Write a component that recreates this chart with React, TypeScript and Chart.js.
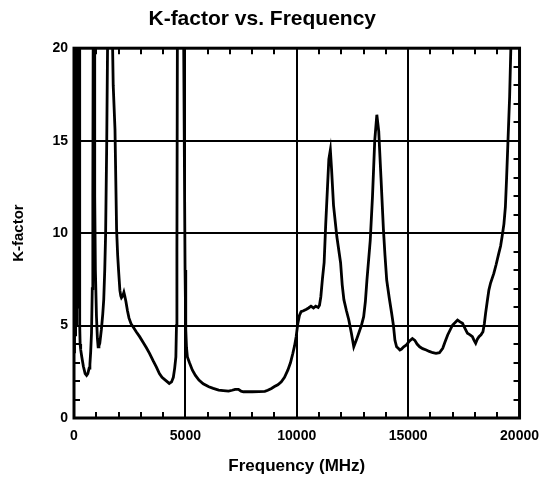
import React, { useEffect, useRef } from 'react';
import { Chart, registerables } from 'chart.js';

Chart.register(...registerables);

const FONT = "'Liberation Sans', Arial, Helvetica, sans-serif";

const chartTitle = 'K-factor vs. Frequency';
const xAxisTitle = 'Frequency (MHz)';
const yAxisTitle = 'K-factor';

const xTicks = [0, 5000, 10000, 15000, 20000];
const yTicks = [0, 5, 10, 15, 20];

const freqMHz = [
  0, 12, 24, 36, 48, 60, 72, 84, 96, 110, 125, 140, 155, 170, 185, 200, 215, 230, 250, 262,
  275, 300, 350, 420, 500, 565, 620, 680, 714, 750, 786, 820, 845, 860, 880, 905, 930, 960,
  1008, 1050, 1083, 1120, 1158, 1230, 1290, 1335, 1380, 1420, 1470, 1520, 1600, 1680, 1760,
  1840, 1912, 1960, 2000, 2060, 2100, 2130, 2190, 2240, 2280, 2330, 2400, 2470, 2560, 2650,
  2800, 2946, 3100, 3250, 3390, 3550, 3700, 3833, 3950, 4100, 4277, 4380, 4460, 4520, 4573,
  4600, 4620, 4640, 4680, 4720, 4780, 4840, 4900, 4950, 4985, 5017, 5050, 5090, 5180, 5310,
  5450, 5608, 5800, 6052, 6250, 6495, 6700, 6939, 7100, 7236, 7383, 7500, 7605, 8000, 8300,
  8567, 8700, 8863, 9000, 9150, 9307, 9450, 9603, 9720, 9825, 9900, 9973, 10046, 10120, 10194,
  10300, 10416, 10530, 10638, 10750, 10850, 10962, 11020, 11080, 11150, 11228, 11300, 11380,
  11440, 11508, 11560, 11650, 11800, 11967, 12040, 12115, 12230, 12337, 12450, 12559, 12670,
  12781, 12900, 13003, 13080, 13150, 13298, 13400, 13500, 13594, 13680, 13780, 13890, 13960,
  14037, 14150, 14259, 14340, 14407, 14481, 14555, 14629, 14703, 14800, 14925, 15050, 15191,
  15300, 15400, 15516, 15650, 15812, 15950, 16108, 16250, 16404, 16552, 16650, 16774, 16900,
  16996, 17100, 17218, 17330, 17440, 17550, 17662, 17780, 17884, 17960, 18032, 18100, 18180,
  18270, 18358, 18420, 18476, 18550, 18624, 18700, 18846, 18950, 19068, 19150, 19216, 19300,
  19364, 19420, 19482, 19556, 19616, 19680,
];

const kFactor = [
  5.0, 30, 3.5, 30, 4.5, 30, 5, 30, 6, 30, 5, 30, 7, 30, 6, 30, 7, 30, 7, 5.0,
  4.0, 3.7, 3.3, 2.8, 2.4, 2.3, 2.4, 2.7, 2.9, 3.6, 4.6, 7, 12, 20, 30, 22, 12, 8,
  5.5, 4.3, 3.85, 3.9, 4.05, 4.8, 5.6, 6.4, 8, 10, 15, 22, 30, 24, 18,
  15.6, 10.2, 8.8, 8, 6.9, 6.6, 6.5, 6.6, 6.8, 6.6, 6.3, 5.8, 5.4, 5.1, 4.94,
  4.65, 4.4, 4.1, 3.8, 3.5, 3.1, 2.75, 2.4, 2.2, 2.05, 1.87, 1.95, 2.2, 2.7, 3.3,
  5, 9, 20, 30, 30, 25, 30, 25, 15, 8, 4.8, 3.8, 3.3, 3.0, 2.6,
  2.3, 2.05, 1.85, 1.69, 1.6, 1.51, 1.48, 1.45, 1.5, 1.55, 1.55, 1.45, 1.42, 1.42, 1.43,
  1.44, 1.5, 1.6, 1.7, 1.8, 1.96, 2.2, 2.6, 3.0, 3.5, 3.9, 4.4, 5.1, 5.55, 5.75,
  5.8, 5.87, 5.95, 6.05, 5.95, 6.05, 5.98, 6.1, 6.56, 7.5, 8.4, 10.5, 12.5,
  14, 14.5, 13.5, 11.5, 9.8, 8.4, 7.2, 6.4, 5.8, 5.3, 4.6, 3.85, 4.2,
  4.58, 5.0, 5.48, 6.3, 7.46, 9.6, 12, 15, 16.4, 15.5, 13, 10.2, 8.8,
  7.46, 6.5, 5.67, 5.0, 4.2, 3.85, 3.77, 3.68, 3.73, 3.85, 3.95, 4.15, 4.3,
  4.2, 4.0, 3.85, 3.75, 3.68, 3.6, 3.53, 3.5, 3.53, 3.77, 4.1, 4.49, 4.8,
  5.03, 5.15, 5.3, 5.2, 5.12, 4.85, 4.58, 4.5, 4.4, 4.2, 4.04, 4.25, 4.4,
  4.5, 4.67, 5.1, 5.66, 6.3, 6.92, 7.3, 7.82, 8.3, 8.9, 9.3, 9.8, 10.5,
  11.4, 13, 15.0, 17.4, 20.3, 25,
];

const xMinorStep = 1000;
const yMinorStep = 1;

const framePlugin = {
  id: 'frameAndMinorTicks',
  afterDraw(chart: any) {
    const { ctx, chartArea: a, scales } = chart;
    const xs = scales.x;
    const ys = scales.y;
    ctx.save();
    ctx.strokeStyle = '#000';
    ctx.lineWidth = 2;
    const len = 6;
    ctx.beginPath();
    for (let v = xs.min + xMinorStep; v < xs.max; v += xMinorStep) {
      if (xTicks.includes(v)) continue;
      const px = Math.round(xs.getPixelForValue(v));
      ctx.moveTo(px, a.top);
      ctx.lineTo(px, a.top + len);
      ctx.moveTo(px, a.bottom);
      ctx.lineTo(px, a.bottom - len);
    }
    for (let v = ys.min + yMinorStep; v < ys.max; v += yMinorStep) {
      if (yTicks.includes(v)) continue;
      const py = Math.round(ys.getPixelForValue(v));
      ctx.moveTo(a.left, py);
      ctx.lineTo(a.left + len, py);
      ctx.moveTo(a.right, py);
      ctx.lineTo(a.right - len, py);
    }
    ctx.stroke();
    ctx.lineWidth = 3;
    ctx.strokeRect(a.left, a.top, a.right - a.left, a.bottom - a.top);
    ctx.restore();
  },
};

export default function App() {
  const canvasRef = useRef<HTMLCanvasElement | null>(null);

  useEffect(() => {
    const canvas = canvasRef.current;
    if (!canvas) return;
    Chart.defaults.font.family = FONT;
    Chart.defaults.color = '#000';

    const chart = new Chart(canvas, {
      type: 'line',
      data: {
        datasets: [
          {
            label: 'K-factor',
            data: freqMHz.map((f, i) => ({ x: f, y: kFactor[i] })),
            borderColor: '#000',
            borderWidth: 2.8,
            pointRadius: 0,
            tension: 0,
            fill: false,
            clip: 1,
          },
        ],
      },
      options: {
        animation: false,
        responsive: false,
        devicePixelRatio: 1,
        layout: { padding: { left: 0, top: 0, right: 24.5, bottom: 0 } },
        plugins: {
          legend: { display: false },
          tooltip: { enabled: false },
          title: {
            display: true,
            text: chartTitle,
            color: '#000',
            font: { size: 21, weight: 'bold', family: FONT },
            padding: { top: 7, bottom: 16 },
          },
        },
        scales: {
          x: {
            type: 'linear',
            min: 0,
            max: 20000,
            afterBuildTicks: (s: any) => {
              s.ticks = xTicks.map((v) => ({ value: v }));
            },
            afterFit: (s: any) => {
              s.height = 67;
            },
            ticks: {
              color: '#000',
              font: { size: 14, weight: 'bold', family: FONT },
              padding: 10,
              maxRotation: 0,
              autoSkip: false,
              callback: (v: any) => String(v),
            },
            grid: { color: '#000', lineWidth: 2, drawTicks: false },
            border: { display: false },
            title: {
              display: true,
              text: xAxisTitle,
              color: '#000',
              font: { size: 17, weight: 'bold', family: FONT },
              padding: { top: 0, bottom: 8 },
            },
          },
          y: {
            type: 'linear',
            min: 0,
            max: 20,
            afterBuildTicks: (s: any) => {
              s.ticks = yTicks.map((v) => ({ value: v }));
            },
            afterFit: (s: any) => {
              s.width = 74;
            },
            ticks: {
              color: '#000',
              font: { size: 14, weight: 'bold', family: FONT },
              padding: 6,
              autoSkip: false,
              callback: (v: any) => String(v),
            },
            grid: { color: '#000', lineWidth: 2, drawTicks: false },
            border: { display: false },
            title: {
              display: true,
              text: yAxisTitle,
              color: '#000',
              font: { size: 15, weight: 'bold', family: FONT },
              padding: { top: 10, bottom: 0 },
            },
          },
        },
      },
      plugins: [framePlugin],
    });

    return () => {
      chart.destroy();
    };
  }, []);

  return (
    <div style={{ position: 'absolute', left: 0, top: 0, width: 549, height: 485 }}>
      <canvas ref={canvasRef} width={549} height={485} />
    </div>
  );
}
